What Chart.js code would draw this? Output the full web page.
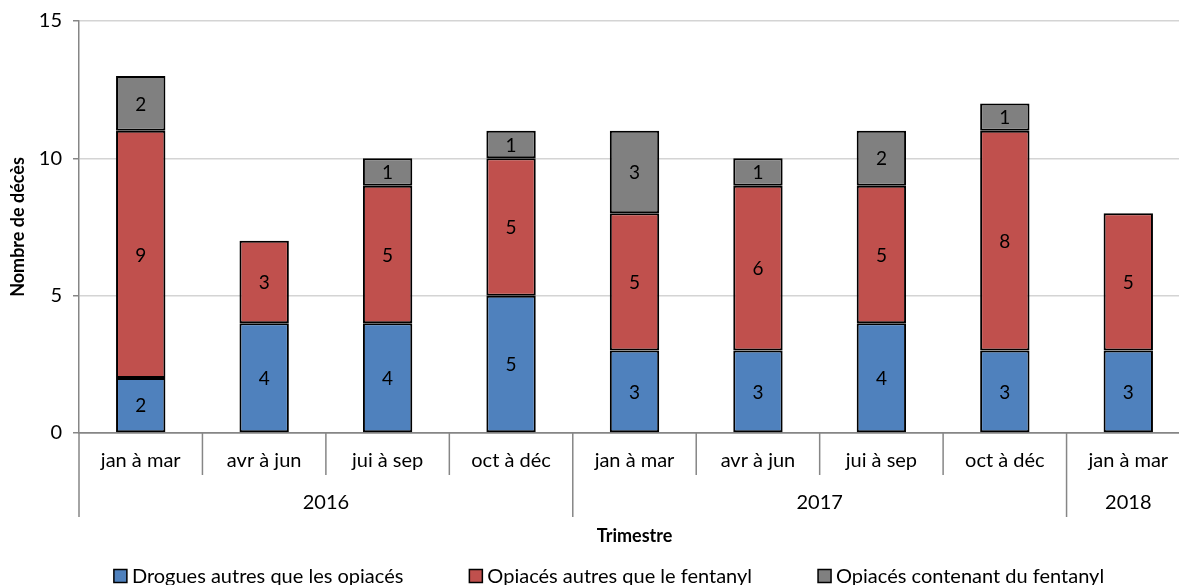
<!DOCTYPE html>
<html>
<head>
<meta charset="utf-8">
<script src="https://cdn.jsdelivr.net/npm/chart.js@4.4.1/dist/chart.umd.min.js"></script>
<style>
  html, body { margin: 0; padding: 0; overflow: hidden; background: #fff; }
  #wrap { width: 1190px; height: 585px; position: relative; }
</style>
</head>
<body>
<div id="wrap"><canvas id="chart"></canvas></div>
<script>
// quarters, grouped by year underneath
var quarters = ['jan à mar', 'avr à jun', 'jui à sep', 'oct à déc', 'jan à mar', 'avr à jun', 'jui à sep', 'oct à déc', 'jan à mar'];
var years = ['2016', '2017', '2018'];
var yearCounts = [4, 4, 1];

var seriesNames = ['Drogues autres que les opiacés', 'Opiacés autres que le fentanyl', 'Opiacés contenant du fentanyl'];
var otherDrugs = [2, 4, 4, 5, 3, 3, 4, 3, 3];
var opioidsNoFentanyl = [9, 3, 5, 5, 5, 6, 5, 8, 5];
var opioidsFentanyl = [2, null, 1, 1, 3, 1, 2, 1, null];

var yMin = 0, yMax = 15, yStep = 5;

var FONT = 'Lato, "Open Sans", sans-serif';
var AXIS_GREY = '#868686';

Chart.defaults.font.family = FONT;
Chart.defaults.color = '#000';

// numbers in the middle of each stacked piece
var valueLabels = {
  id: 'valueLabels',
  afterDatasetsDraw: function(chart) {
    var ctx = chart.ctx;
    ctx.save();
    ctx.font = '19px ' + FONT;
    ctx.fillStyle = '#000';
    ctx.textAlign = 'center';
    ctx.textBaseline = 'middle';
    chart.data.datasets.forEach(function(ds, i) {
      chart.getDatasetMeta(i).data.forEach(function(bar, j) {
        var v = ds.data[j];
        if (!v) return;
        ctx.fillText(v, bar.x, (bar.y + bar.base) / 2 + 1);
      });
    });
    ctx.restore();
  }
};

// quarter separators + year row under the x axis
var yearGroups = {
  id: 'yearGroups',
  afterDraw: function(chart) {
    var ctx = chart.ctx;
    var xs = chart.scales.x;
    var axisY = chart.chartArea.bottom;
    var half = (xs.getPixelForValue(1) - xs.getPixelForValue(0)) / 2;
    var bounds = [0];
    yearCounts.forEach(function(n) { bounds.push(bounds[bounds.length - 1] + n); });

    ctx.save();
    ctx.strokeStyle = AXIS_GREY;
    ctx.lineWidth = 1.5;
    for (var i = 0; i <= quarters.length; i++) {
      var x = xs.getPixelForValue(0) - half + i * 2 * half;
      var long = bounds.indexOf(i) >= 0;
      ctx.beginPath();
      ctx.moveTo(x, axisY);
      ctx.lineTo(x, axisY + (long ? 84 : 42));
      ctx.stroke();
    }
    ctx.font = '20px ' + FONT;
    ctx.fillStyle = '#000';
    ctx.textAlign = 'center';
    ctx.textBaseline = 'middle';
    years.forEach(function(y, k) {
      var x0 = xs.getPixelForValue(bounds[k]) - half;
      var x1 = xs.getPixelForValue(bounds[k + 1] - 1) + half;
      ctx.fillText(y, (x0 + x1) / 2, axisY + 70);
    });
    ctx.restore();
  }
};

// legend with square swatches at the bottom
var bottomLegend = {
  id: 'bottomLegend',
  afterDraw: function(chart) {
    var ctx = chart.ctx;
    var box = 13, gap = 5, spacing = 66, cy = 576, centerX = 609;
    ctx.save();
    ctx.font = '20px ' + FONT;
    ctx.textBaseline = 'middle';
    var widths = chart.data.datasets.map(function(ds) { return ctx.measureText(ds.label).width; });
    var total = widths.reduce(function(a, w) { return a + box + gap + w; }, 0) + spacing * (widths.length - 1);
    var x = centerX - total / 2;
    chart.data.datasets.forEach(function(ds, i) {
      ctx.fillStyle = ds.backgroundColor;
      ctx.fillRect(x, cy - box / 2, box, box);
      ctx.strokeStyle = '#000';
      ctx.lineWidth = 1.5;
      ctx.strokeRect(x, cy - box / 2, box, box);
      ctx.fillStyle = '#000';
      ctx.fillText(ds.label, x + box + gap, cy + 1);
      x += box + gap + widths[i] + spacing;
    });
    ctx.restore();
  }
};

new Chart(document.getElementById('chart'), {
  type: 'bar',
  data: {
    labels: quarters,
    datasets: [
      { label: seriesNames[0], data: otherDrugs, backgroundColor: '#4F81BD' },
      { label: seriesNames[1], data: opioidsNoFentanyl, backgroundColor: '#C0504D' },
      { label: seriesNames[2], data: opioidsFentanyl, backgroundColor: '#808080' }
    ]
  },
  options: {
    responsive: true,
    maintainAspectRatio: false,
    animation: false,
    layout: { padding: { top: 15, right: 0, bottom: 38, left: 0 } },
    datasets: {
      bar: {
        borderColor: '#000',
        borderWidth: 2,
        borderSkipped: false,
        categoryPercentage: 1,
        barPercentage: 0.4
      }
    },
    plugins: {
      legend: { display: false },
      tooltip: { enabled: false }
    },
    scales: {
      x: {
        stacked: true,
        grid: { display: false, drawTicks: false },
        border: { color: AXIS_GREY, width: 1.5 },
        ticks: { font: { size: 20 }, padding: 16, maxRotation: 0, autoSkip: false },
        title: { display: true, text: 'Trimestre', font: { size: 18, weight: 'bold' }, padding: { top: 0, bottom: 0 } },
        afterFit: function(scale) { scale.height = 114; }
      },
      y: {
        stacked: true,
        min: yMin,
        max: yMax,
        grid: {
          color: function(c) { return c.tick && c.tick.value === 0 ? AXIS_GREY : '#D4D4D4'; },
          lineWidth: 1.5,
          tickColor: AXIS_GREY,
          tickLength: 6
        },
        border: { color: AXIS_GREY, width: 1.5 },
        ticks: { stepSize: yStep, font: { size: 20, lineHeight: 1 }, padding: 11 },
        title: { display: true, text: 'Nombre de décès', font: { size: 18, weight: 'bold' }, padding: { top: 7, bottom: 0 } },
        afterFit: function(scale) { scale.width = 79; }
      }
    }
  },
  plugins: [valueLabels, yearGroups, bottomLegend]
});
</script>
</body>
</html>
